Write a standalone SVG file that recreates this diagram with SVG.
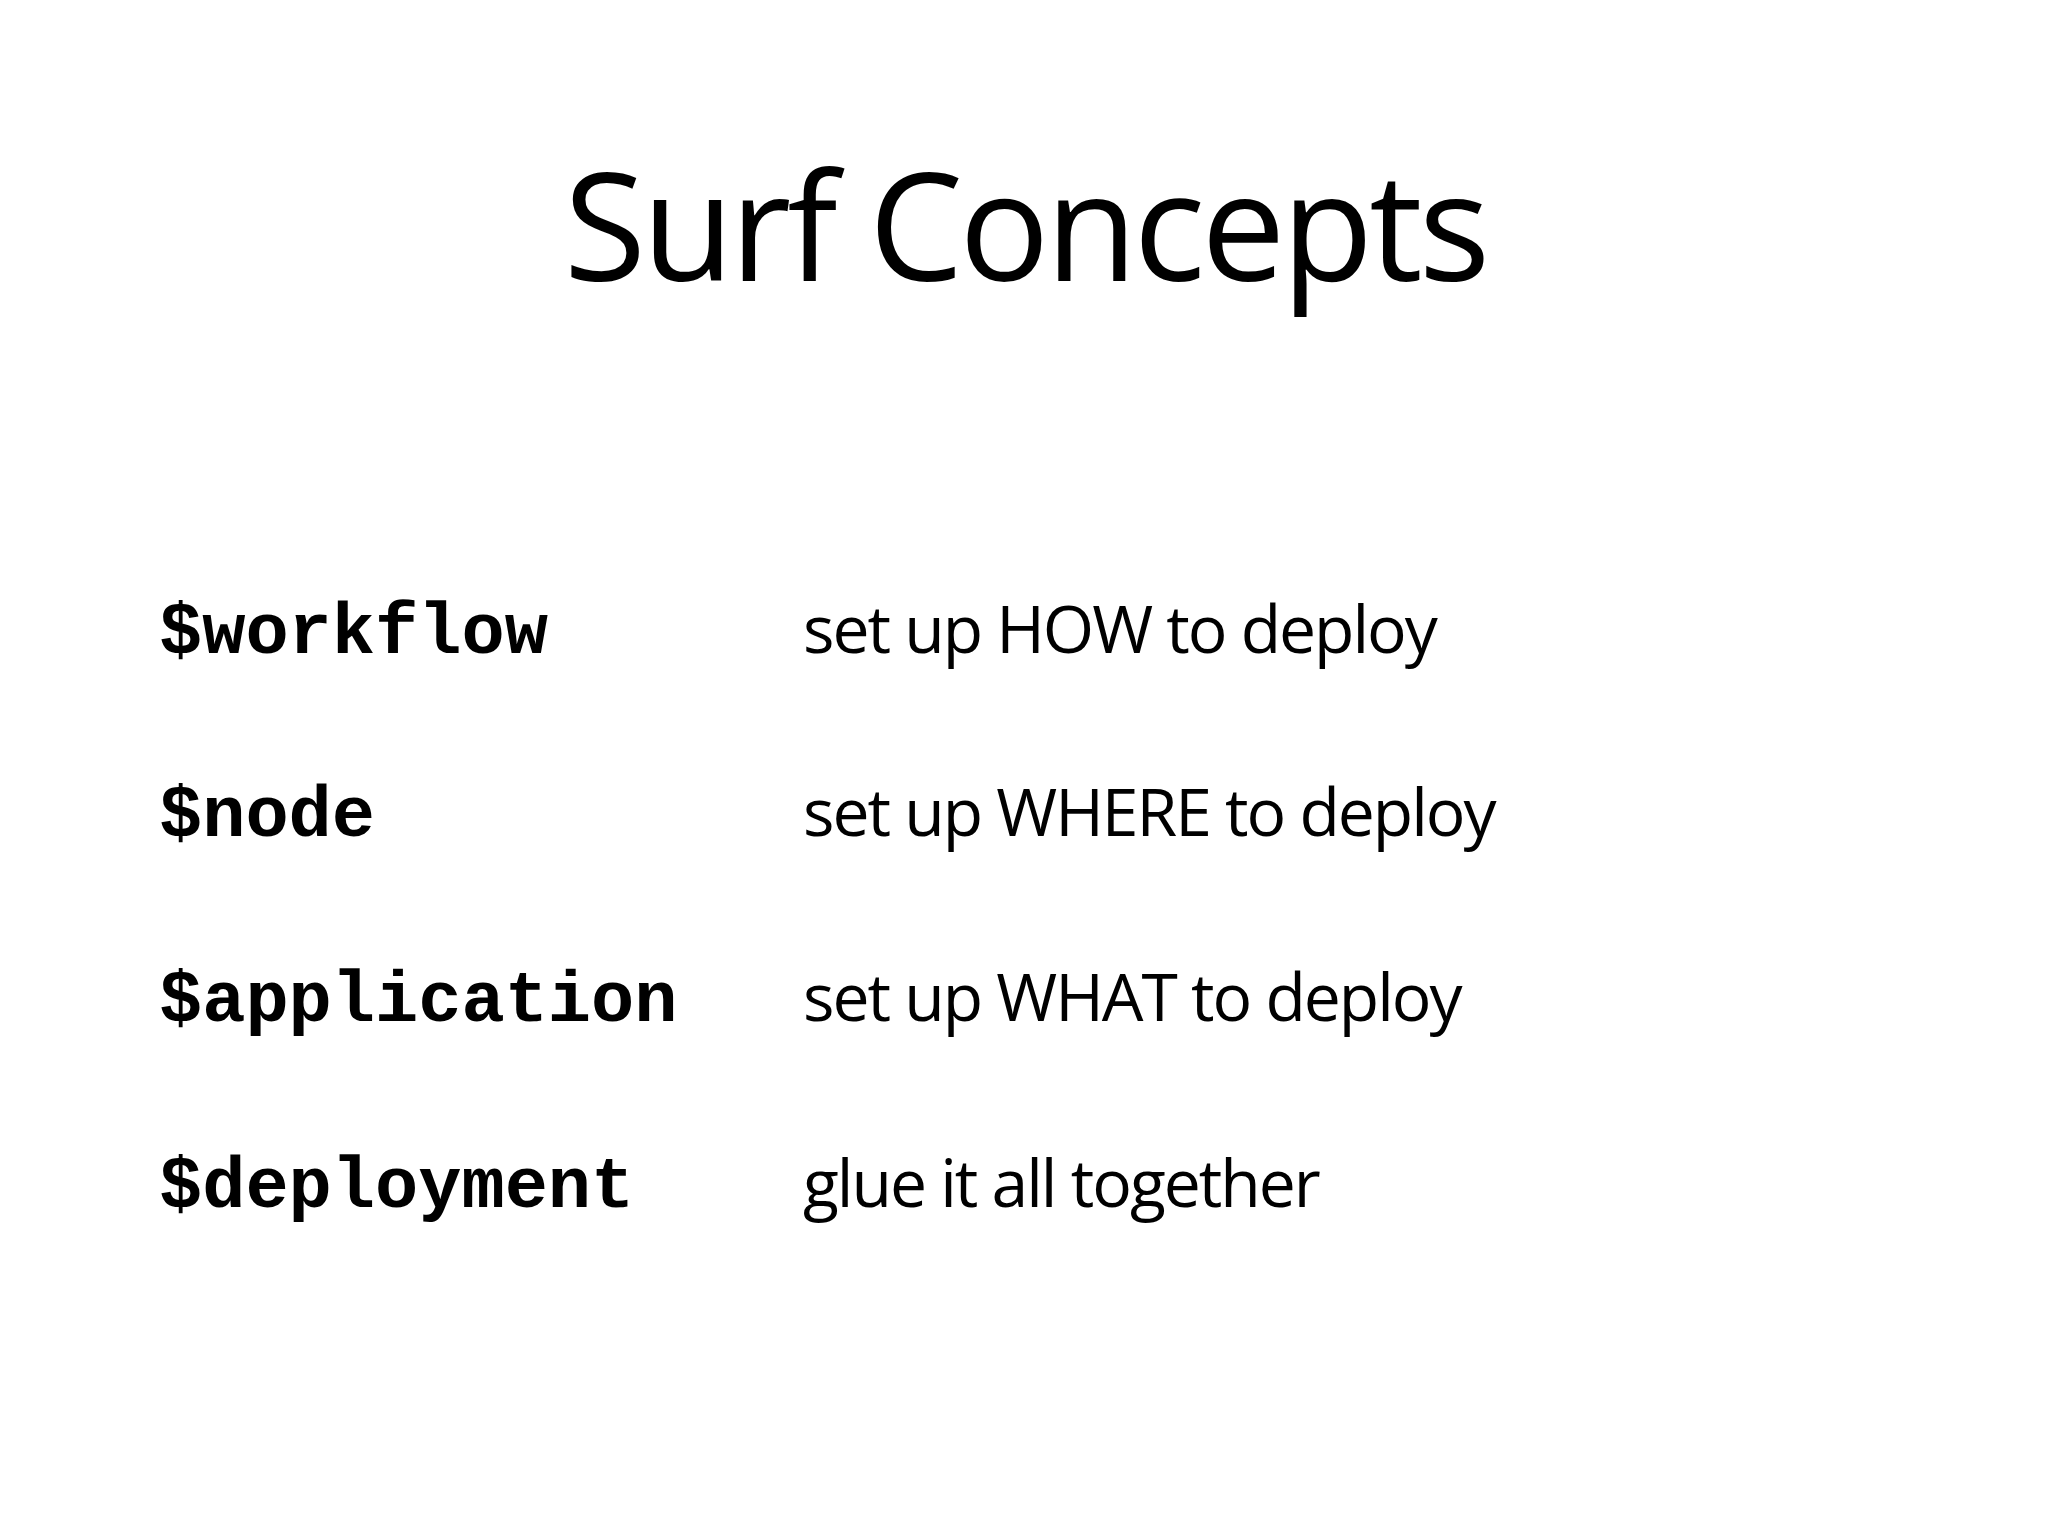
<svg xmlns="http://www.w3.org/2000/svg" width="2048" height="1536" viewBox="0 0 2048 1536">
<style>
.t{font-family:"Open Sans","Liberation Sans",sans-serif;fill:#000}
.c{font-family:"Liberation Mono","Courier New",monospace;font-weight:bold;font-size:72px;fill:#000}
.d{font-family:"Open Sans","Liberation Sans",sans-serif;font-size:66px;fill:#000;letter-spacing:-2px}
</style>
<rect width="2048" height="1536" fill="#fff"/>
<text class="t" x="1025" y="281" font-size="150" text-anchor="middle" letter-spacing="-4">Surf Concepts</text>
<g id="workflow"><text class="c" x="159" y="653">$workflow</text><text class="d" x="803" y="653">set up HOW to deploy</text></g>
<g id="node"><text class="c" x="159" y="836">$node</text><text class="d" x="803" y="836">set up WHERE to deploy</text></g>
<g id="application"><text class="c" x="159" y="1021">$application</text><text class="d" x="803" y="1021">set up WHAT to deploy</text></g>
<g id="deployment"><text class="c" x="159" y="1207">$deployment</text><text class="d" x="803" y="1207">glue it all together</text></g>
<g id="connectors"/>
</svg>
